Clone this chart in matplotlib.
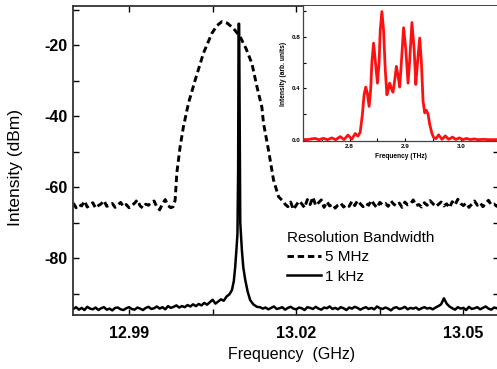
import numpy as np
import matplotlib
matplotlib.use("Agg")
import matplotlib.pyplot as plt
from matplotlib.ticker import MultipleLocator, FixedLocator

plt.rcParams['font.family'] = ['Liberation Sans', 'DejaVu Sans']

# ---------------- data ----------------
# 5 MHz RBW (dashed): left noise floor, the broad peak, right noise floor
step = 0.0005
dash_left_start = 12.980
dash_left = [-64.5, -65.8, -64.9, -65.3, -63.9, -65.6, -65.0, -64.4, -65.9, -65.2,
             -64.7, -63.8, -65.4, -65.1, -64.6, -65.7, -65.0, -64.3, -65.5, -64.9,
             -65.8, -65.2, -64.5, -63.6, -65.3, -65.9, -64.8, -65.1, -64.2, -63.9,
             -65.6, -66.4, -64.7, -63.5, -65.2, -65.8]
dash_peak_f = [12.99791, 12.99827, 12.99857, 12.99917, 12.99976, 13.00066, 13.00186,
               13.00335, 13.00486, 13.00580, 13.00666, 13.00760, 13.00874, 13.00995,
               13.01100, 13.01205, 13.01295, 13.01384, 13.01413, 13.01503, 13.01593,
               13.01683, 13.01772]
dash_peak_v = [-65.5, -63.7, -56.1, -48.6, -43.0, -36.4, -29.9,
               -22.3, -16.7, -14.5, -13.4, -13.8, -15.3, -17.7,
               -21.0, -25.2, -31.7, -37.5, -42.0, -49.6, -58.0,
               -62.7, -64.1]
dash_right_start = 13.0180
dash_right = [-64.8, -65.5, -64.2, -66.3, -65.1, -63.9, -64.7, -65.8, -63.5, -64.9,
              -62.8, -65.2, -64.4, -63.6, -65.7, -64.1, -65.3, -64.8, -65.9, -65.0,
              -64.5, -65.6, -64.9, -65.4, -64.0, -65.2, -63.8, -64.7, -65.5, -64.6,
              -65.1, -63.7, -64.9, -65.8, -64.3, -65.0, -64.6, -65.4, -63.9, -64.8,
              -65.3, -64.5, -65.7, -64.2, -65.0, -64.7, -63.6, -65.2, -64.9, -65.6,
              -64.4, -65.1, -63.8, -64.6, -65.5, -64.9, -64.2, -65.3, -64.7, -65.8,
              -64.1, -65.0, -63.4, -64.6, -65.2, -64.5, -65.7, -64.8, -63.9, -65.1,
              -64.4, -65.5, -64.6, -63.7, -65.0, -64.8, -65.4, -64.9]

# 1 kHz RBW (solid)
solid_left_start = 12.980
solid_left = [-94.3, -93.8, -94.5, -94.0, -94.6, -93.7, -94.2, -94.4, -93.9, -94.6,
              -94.1, -93.8, -94.5, -94.2, -94.7, -94.0, -93.9, -94.4, -94.6, -94.1,
              -93.8, -94.3, -94.5, -93.9, -94.2, -94.6, -94.0, -93.7, -94.3, -94.1,
              -93.6, -94.2, -93.8, -94.4, -93.5, -94.0, -93.7, -93.3, -93.9, -93.5,
              -93.8, -93.2, -93.6, -93.0, -93.5, -92.9, -93.3, -92.6, -93.1, -92.4,
              -91.7, -92.8, -92.2, -91.6, -92.0, -90.8, -90.2]
solid_peak_f = [13.00846, 13.00880, 13.00905, 13.00930, 13.00946, 13.00958, 13.00966,
                13.00976, 13.00986, 13.00996, 13.01025, 13.01050, 13.01084, 13.01130,
                13.01174, 13.01230, 13.01295]
solid_peak_v = [-89.0, -86.5, -82.5, -77.0, -73.0, -55.0, -14.0,
                -14.0, -45.0, -70.0, -77.7, -82.5, -86.0, -89.5,
                -91.8, -93.0, -93.7]
solid_right_start = 13.0135
solid_right = [-93.8, -94.2, -93.9, -94.4, -94.0, -93.6, -94.3, -94.1, -93.8, -94.5,
               -94.0, -93.7, -94.2, -94.4, -93.9, -94.1, -94.6, -93.8, -94.0, -94.3,
               -93.7, -94.2, -94.5, -93.9, -94.1, -93.6, -94.3, -94.0, -94.4, -93.8,
               -94.1, -94.6, -93.9, -94.2, -93.7, -94.0, -94.5, -94.1, -93.8, -94.3,
               -94.0, -94.4, -93.6, -94.1, -94.3, -93.9, -94.2, -94.7, -94.0, -93.8,
               -94.3, -94.1, -93.7, -94.4, -94.0, -94.2, -93.9, -94.5, -94.1, -93.8,
               -94.2, -94.0, -94.4, -93.9, -93.5, -93.0, -91.3,
               -92.8, -93.6, -94.1, -94.5, -93.8, -94.2, -94.0, -94.6, -93.7, -94.3,
               -94.1, -93.8, -94.4, -94.0, -93.6, -94.2, -94.5, -93.9, -94.1, -93.7]

# inset: THz spectrum
thz_f = [2.710, 2.725, 2.731, 2.738, 2.745, 2.753, 2.760, 2.768, 2.775, 2.783,
         2.790, 2.797, 2.804, 2.810, 2.815, 2.819, 2.823, 2.826, 2.829, 2.832,
         2.835, 2.838, 2.840, 2.843, 2.846, 2.850, 2.853, 2.855, 2.858, 2.861,
         2.864, 2.867, 2.870, 2.872, 2.875, 2.878, 2.881, 2.884, 2.887, 2.890,
         2.893, 2.897, 2.901, 2.905, 2.908, 2.912, 2.916, 2.919, 2.922, 2.926,
         2.929, 2.932, 2.935, 2.938, 2.941, 2.944, 2.948, 2.951, 2.955, 2.960,
         2.966, 2.972, 2.978, 2.985, 2.991, 2.997, 3.004, 3.010, 3.017, 3.024,
         3.031, 3.040, 3.050, 3.065]
thz_i = [0.004, 0.003, 0.008, 0.012, 0.002, 0.013, 0.002, 0.016, 0.002, 0.026,
         0.003, 0.038, 0.006, 0.050, 0.030, 0.060, 0.200, 0.350, 0.410, 0.360,
         0.260, 0.400, 0.600, 0.750, 0.620, 0.440, 0.600, 0.850, 0.995, 0.850,
         0.550, 0.350, 0.400, 0.440, 0.400, 0.370, 0.460, 0.570, 0.500, 0.410,
         0.600, 0.870, 0.700, 0.440, 0.620, 0.910, 0.700, 0.430, 0.600, 0.790,
         0.600, 0.300, 0.210, 0.230, 0.200, 0.120, 0.050, 0.020, 0.010, 0.040,
         0.005, 0.032, 0.005, 0.022, 0.004, 0.016, 0.003, 0.012, 0.003, 0.008,
         0.002, 0.005, 0.002, 0.003]

xticks_major = [12.99, 13.02, 13.05]
legend_title = "Resolution Bandwidth"
legend_labels = ["5 MHz", "1 kHz"]

# ---------------- build series ----------------
dash_f = np.concatenate([dash_left_start + step * np.arange(len(dash_left)),
                         dash_peak_f,
                         dash_right_start + step * np.arange(len(dash_right))])
dash_v = np.concatenate([dash_left, dash_peak_v, dash_right])
solid_f = np.concatenate([solid_left_start + step * np.arange(len(solid_left)),
                          solid_peak_f,
                          solid_right_start + step * np.arange(len(solid_right))])
solid_v = np.concatenate([solid_left, solid_peak_v, solid_right])

# ---------------- figure ----------------
W, H = 497, 369
fig = plt.figure(figsize=(W / 100, H / 100), dpi=100)
ax = fig.add_axes([73.3 / W, (H - 315) / H, (498.5 - 73.3) / W, (315 - 6) / H])

l1, = ax.plot(dash_f, dash_v, color='black', lw=2.1, dashes=(2.2, 1.3),
              solid_capstyle='butt', dash_capstyle='butt')
l2, = ax.plot(solid_f, solid_v, color='black', lw=1.8, solid_joinstyle='round')

ax.set_xlim(12.980, 13.0563)
ax.set_ylim(-96, -9)
ax.xaxis.set_major_locator(FixedLocator(xticks_major))
ax.xaxis.set_minor_locator(MultipleLocator(0.015))
ax.yaxis.set_major_locator(MultipleLocator(20))
ax.yaxis.set_minor_locator(MultipleLocator(10))
ax.set_yticks([-20, -40, -60, -80])
ax.tick_params(which='both', direction='in', top=True, right=True, length=4, width=1.0)
ax.tick_params(axis='x', which='major', pad=8, labelsize=11.5)
ax.tick_params(axis='y', which='major', pad=4, labelsize=11.5)
for lab in ax.get_xticklabels() + ax.get_yticklabels():
    lab.set_fontweight('bold')
ax.xaxis.set_major_formatter(matplotlib.ticker.FuncFormatter(lambda v, p: f"{v:.2f}"))
ax.yaxis.set_major_formatter(matplotlib.ticker.FuncFormatter(lambda v, p: f"{v:.0f}"))
for s in ax.spines.values():
    s.set_linewidth(1.3)
    s.set_color('#333333')

fig.text(16 / W, 1 - 167.5 / H, "Intensity (dBm)", rotation=90, ha='center', va='center',
         fontsize=12.5)
fig.text(292 / W, 1 - 355 / H, "Frequency  (GHz)", ha='center', va='center', fontsize=11.5)

leg = ax.legend([l1, l2], legend_labels, title=legend_title, loc='upper left',
                bbox_to_anchor=((287 - 73.3) / (498.5 - 73.3), (315 - 231) / (315 - 6)),
                frameon=False, fontsize=11, title_fontsize=11, handlelength=2.2,
                handletextpad=0.3, labelspacing=0.35, borderaxespad=0, borderpad=0,
                alignment='left')

# ---------------- inset ----------------
ins = fig.add_axes([303 / W, (H - 141) / H, (498.5 - 303) / W, (141 - 6) / H])
ins.plot(thz_f, thz_i, color='#ff1010', lw=2.0, solid_joinstyle='round')
ins.set_xlim(2.7162, 3.0676)
ins.set_ylim(-0.008, 1.038)
ins.set_xticks([2.8, 2.9, 3.0])
ins.xaxis.set_minor_locator(MultipleLocator(0.05))
ins.set_yticks([0.0, 0.4, 0.8])
ins.yaxis.set_minor_locator(MultipleLocator(0.2))
ins.xaxis.set_major_formatter(matplotlib.ticker.FuncFormatter(lambda v, p: f"{v:.1f}"))
ins.yaxis.set_major_formatter(matplotlib.ticker.FuncFormatter(lambda v, p: f"{v:.1f}"))
ins.tick_params(which='both', direction='in', length=2.5, width=0.8, labelsize=4.5, pad=2)
for lab in ins.get_xticklabels() + ins.get_yticklabels():
    lab.set_fontweight('bold')
ins.spines['top'].set_visible(False)
ins.spines['right'].set_visible(False)
for s in ('left', 'bottom'):
    ins.spines[s].set_linewidth(0.9)
    ins.spines[s].set_color('#444444')
ins.set_xlabel("Frequency (THz)", fontsize=4.8, fontweight='bold', labelpad=3)
ins.set_ylabel("Intensity (arb. units)", fontsize=4.8, fontweight='bold', labelpad=3)

fig.savefig("out.png", dpi=100)
